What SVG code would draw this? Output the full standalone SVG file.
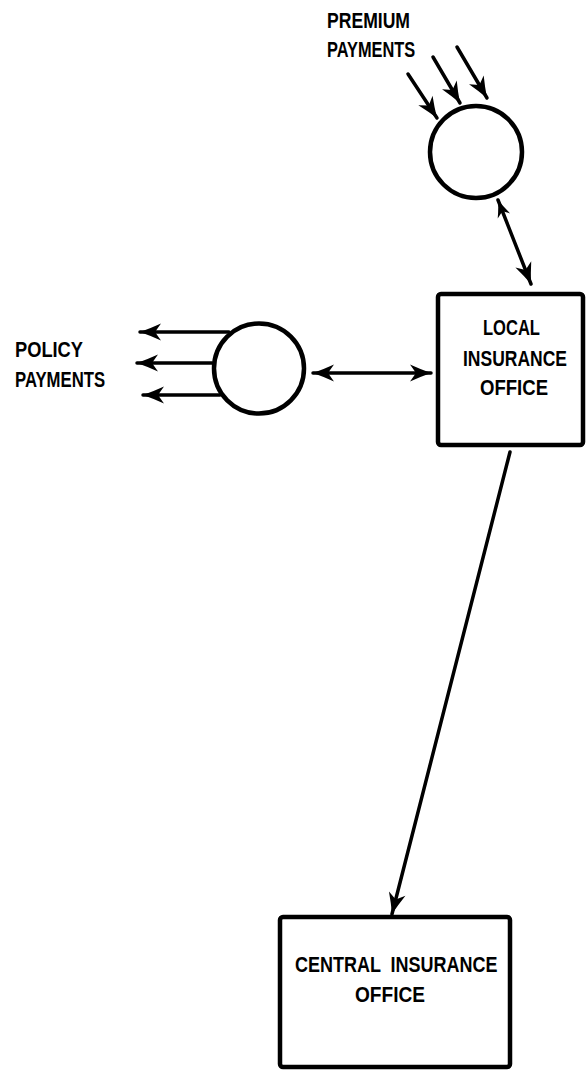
<svg xmlns="http://www.w3.org/2000/svg" width="586" height="1070" viewBox="0 0 586 1070">
  <style>
    .bg { fill: #ffffff; }
    .node { fill: #ffffff; stroke: #000000; stroke-width: 4.5; }
    .edge { fill: none; stroke: #000000; stroke-width: 3.5; stroke-linecap: round; }
    .label { font-family: "Liberation Sans", Arial, sans-serif; font-size: 21.5px; font-weight: bold; fill: #000000; }
  </style>
  <defs>
    <marker id="head" markerUnits="userSpaceOnUse" viewBox="-24 -10 26 20" refX="0" refY="0" markerWidth="26" markerHeight="20" orient="auto-start-reverse">
      <path d="M0,0 Q-10,-3.5 -21,-8.5 L-15,0 L-21,8.5 Q-10,3.5 0,0 Z" fill="#000000"/>
    </marker>
    <marker id="small-head" markerUnits="userSpaceOnUse" viewBox="-24 -10 26 20" refX="0" refY="0" markerWidth="26" markerHeight="20" orient="auto-start-reverse">
      <path d="M0,0 Q-8,-2.5 -17,-7 L-12,0 L-17,6.5 Q-8,2.5 0,0 Z" fill="#000000"/>
    </marker>
  </defs>

  <rect class="bg" x="0" y="0" width="586" height="1070"/>

  <!-- connectors -->
  <g id="connectors">
    <!-- premium payments flowing into the collection point -->
    <line class="edge" x1="408" y1="74" x2="437" y2="118" marker-end="url(#head)"/>
    <line class="edge" x1="433" y1="57" x2="460" y2="103" marker-end="url(#head)"/>
    <line class="edge" x1="457" y1="47" x2="487" y2="98" marker-end="url(#head)"/>
    <!-- collection point to/from local office -->
    <line class="edge" x1="498" y1="200" x2="531" y2="284" marker-start="url(#small-head)" marker-end="url(#head)"/>
    <!-- policy payments flowing out -->
    <line class="edge" x1="229" y1="332" x2="140" y2="332" marker-end="url(#head)"/>
    <line class="edge" x1="212" y1="363" x2="137" y2="363" marker-end="url(#head)"/>
    <line class="edge" x1="220" y1="395" x2="143" y2="395" marker-end="url(#head)"/>
    <!-- payout point to/from local office -->
    <line class="edge" x1="313" y1="373" x2="431" y2="373" marker-start="url(#head)" marker-end="url(#head)"/>
    <!-- local office to central office -->
    <line class="edge" x1="510" y1="452" x2="392" y2="914" marker-end="url(#head)"/>
  </g>

  <!-- premium collection point (labels use a horizontally condensed face) -->
  <g id="premium-payments">
    <text class="label" transform="translate(327 28) scale(0.818 1)">PREMIUM</text>
    <text class="label" transform="translate(327 57) scale(0.762 1)">PAYMENTS</text>
    <circle class="node" cx="476" cy="152" r="46"/>
  </g>

  <!-- policy payout point -->
  <g id="policy-payments">
    <text class="label" transform="translate(15 357) scale(0.85 1)">POLICY</text>
    <text class="label" transform="translate(15 387) scale(0.778 1)">PAYMENTS</text>
    <circle class="node" cx="259" cy="368.5" r="45"/>
  </g>

  <!-- local office -->
  <g id="local-insurance-office">
    <rect class="node" x="438" y="294" width="145" height="151" rx="3"/>
    <text class="label" transform="translate(483 335) scale(0.77 1)">LOCAL</text>
    <text class="label" transform="translate(463 366) scale(0.814 1)">INSURANCE</text>
    <text class="label" transform="translate(480 395) scale(0.863 1)">OFFICE</text>
  </g>

  <!-- central office -->
  <g id="central-insurance-office">
    <rect class="node" x="280" y="917" width="230" height="150" rx="3"/>
    <text class="label" transform="translate(295 972) scale(0.837 1)" xml:space="preserve">CENTRAL  INSURANCE</text>
    <text class="label" transform="translate(355 1002) scale(0.888 1)">OFFICE</text>
  </g>
</svg>
